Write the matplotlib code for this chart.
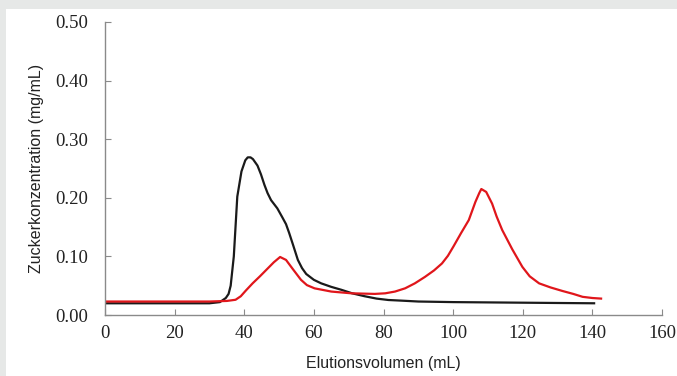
import matplotlib.pyplot as plt
import matplotlib.patches as patches

# Elutionsprofil: schwarze Kurve
black_x = [0, 10, 20, 30, 33, 34.7, 35.5, 36.1, 37, 38.0, 39.2, 40.3, 41.0, 41.8, 42.5, 43.8,
           44.8, 45.8, 46.7, 47.7, 49.5, 51.0, 52.0, 52.9, 54.0, 55.4, 56.6, 57.8, 60.0,
           62.1, 65.0, 67.9, 71.0, 74.6, 78.0, 81.4, 85.2, 90, 100, 110, 120, 130, 140.5]
black_y = [0.020, 0.020, 0.020, 0.020, 0.022, 0.029, 0.036, 0.050, 0.100, 0.202, 0.245, 0.264,
           0.269, 0.269, 0.266, 0.255, 0.240, 0.222, 0.208, 0.196, 0.182, 0.166, 0.155,
           0.140, 0.120, 0.094, 0.080, 0.070, 0.060, 0.054, 0.048, 0.043, 0.037, 0.032,
           0.028, 0.0256, 0.0245, 0.023, 0.022, 0.0215, 0.021, 0.0205, 0.020]

# Elutionsprofil: rote Kurve
red_x = [0, 10, 20, 30, 35, 37.5, 39.0, 40.5, 42.4, 44.5, 46.5, 48.5, 50.3, 52.0, 54.0,
         56.3, 58.0, 60.2, 65.0, 70.8, 77.5, 80.5, 83.3, 86.2, 89.0, 91.9, 94.5, 96.8,
         98.5, 100.1, 102.3, 104.5, 106.4, 107.5, 108.1, 109.5, 111.2, 112.5, 114.1,
         117.0, 119.9, 122.0, 124.7, 128.0, 131.4, 134.5, 137.2, 140.0, 142.5]
red_y = [0.023, 0.023, 0.023, 0.023, 0.024, 0.026, 0.032, 0.042, 0.054, 0.066, 0.078,
         0.090, 0.099, 0.094, 0.078, 0.060, 0.051, 0.0455, 0.040, 0.037, 0.036, 0.037,
         0.040, 0.0455, 0.054, 0.065, 0.076, 0.088, 0.101, 0.117, 0.140, 0.162, 0.193,
         0.208, 0.215, 0.210, 0.190, 0.168, 0.145, 0.112, 0.082, 0.066, 0.054, 0.047,
         0.041, 0.036, 0.031, 0.029, 0.028]

x_ticks = [0, 20, 40, 60, 80, 100, 120, 140, 160]
y_ticks = [0.0, 0.1, 0.2, 0.3, 0.4, 0.5]
y_ticklabels = ['0.00', '0.10', '0.20', '0.30', '0.40', '0.50']

fig = plt.figure(figsize=(6.77, 3.76), dpi=100, facecolor='#e6e8e7')
# weisses Panel
fig.patches.append(patches.Rectangle((6 / 677, 0), 1, 1 - 9 / 376, transform=fig.transFigure,
                                     facecolor='white', edgecolor='none', zorder=-10))
ax = fig.add_axes([105 / 677, 1 - 315 / 376, (662 - 105) / 677, (315 - 22) / 376])
ax.set_facecolor('none')

ax.plot(black_x, black_y, color='#1a1a1a', lw=1.6, solid_joinstyle='round')
ax.plot(red_x, red_y, color='#e0161b', lw=1.6, solid_joinstyle='round')

ax.set_xlim(0, 160)
ax.set_ylim(0, 0.5)
tick_font = dict(fontfamily='Liberation Serif', fontsize=13.5, color='#222222')
ax.set_xticks(x_ticks)
ax.set_xticklabels([str(v) for v in x_ticks], **tick_font)
ax.set_yticks(y_ticks)
ax.set_yticklabels(y_ticklabels, **tick_font)

for s in ['top', 'right']:
    ax.spines[s].set_visible(False)
for s in ['left', 'bottom']:
    ax.spines[s].set_color('#8a8a8a')
    ax.spines[s].set_linewidth(1.0)
ax.tick_params(direction='in', length=4, color='#8a8a8a')
ax.xaxis.set_tick_params(pad=7)
ax.yaxis.set_tick_params(pad=12)

ax.set_xlabel('Elutionsvolumen (mL)', fontfamily='Liberation Sans', fontsize=11.5, color='#222222', labelpad=10)
ax.set_ylabel('Zuckerkonzentration (mg/mL)', fontfamily='Liberation Sans', fontsize=11.5, color='#222222', labelpad=8)

plt.savefig('out.png', dpi=100, facecolor=fig.get_facecolor())
